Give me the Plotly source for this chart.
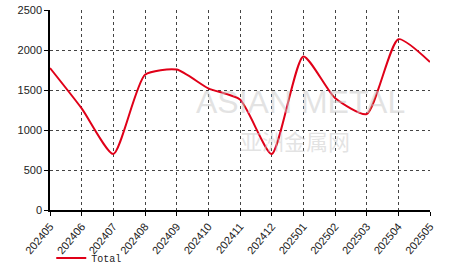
import plotly.graph_objects as go

months = ["202405","202406","202407","202408","202409","202410","202411",
          "202412","202501","202502","202503","202504","202505"]
total = [1775, 1270, 700, 1690, 1755, 1520, 1380, 700, 1920, 1400, 1200, 2135, 1850]
y_ticks = [0, 500, 1000, 1500, 2000, 2500]

fig = go.Figure()
fig.add_trace(go.Scatter(
    x=months, y=total, mode="lines", name="Total",
    line=dict(color="#e00018", width=2, shape="spline", smoothing=0.6),
))

fig.add_annotation(x=0.66, y=0.54, xref="paper", yref="paper", text="ASIAN METAL",
                   showarrow=False, font=dict(family="Arial", size=32, color="rgba(200,200,200,0.5)"))
fig.add_annotation(x=0.645, y=0.35, xref="paper", yref="paper", text="亚洲金属网",
                   showarrow=False, font=dict(family="Noto Sans CJK SC", size=22, color="rgba(200,200,200,0.5)"))

fig.update_layout(
    width=466, height=272,
    margin=dict(l=50, r=36, t=10, b=62),
    paper_bgcolor="white", plot_bgcolor="white",
    font=dict(family="Arial", size=11, color="#222"),
    showlegend=True,
    legend=dict(x=0.11, xref="container", y=0.105, yref="container",
                xanchor="left", yanchor="top", orientation="h",
                font=dict(family="Courier New, Liberation Mono, monospace", size=10, color="#222"),
                bgcolor="rgba(0,0,0,0)"),
    xaxis=dict(
        type="category", range=[0, len(months) - 1], automargin=False,
        tickangle=-50, showgrid=True, gridcolor="#444", griddash="dot", gridwidth=1,
        showline=True, linecolor="black", linewidth=1.5,
        ticks="outside", ticklen=4, tickcolor="black",
        tickfont=dict(family="Arial", size=11, color="#222"),
    ),
    yaxis=dict(
        range=[0, 2500], tickvals=y_ticks, showgrid=True, gridcolor="#444", automargin=False,
        griddash="dot", gridwidth=1, showline=True, linecolor="black", linewidth=1.5,
        ticks="outside", ticklen=4, tickcolor="black", zeroline=False,
        tickfont=dict(family="Arial", size=11, color="#222"),
    ),
)

fig.write_html("out.html")
